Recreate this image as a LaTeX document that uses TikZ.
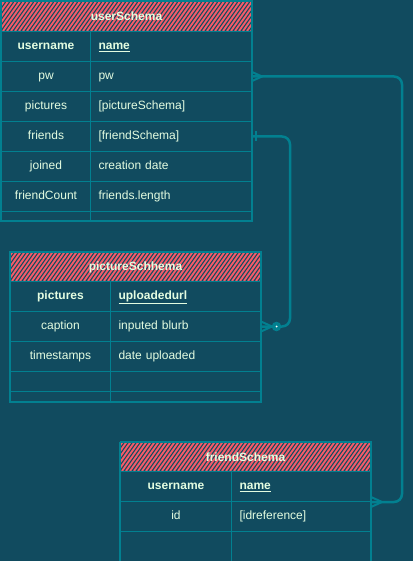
\documentclass[tikz,border=0pt]{standalone}
\usepackage{fontspec}
\setmainfont{Liberation Sans}
\definecolor{bg}{HTML}{114B5F}
\definecolor{ln}{HTML}{028090}
\definecolor{tx}{HTML}{E4FDE1}
\definecolor{ht}{HTML}{F45B69}
\tikzset{
  cellbase/.style={draw=ln, line width=1pt, anchor=north west, inner sep=0pt,
    minimum height=30pt, text height=9pt, text depth=2.5pt, text=tx,
    font=\fontsize{12}{14}\selectfont},
  keyc/.style={cellbase, align=center},
  valc/.style={cellbase, align=left, inner xsep=8pt},
  pk/.style={font=\fontsize{12}{14}\selectfont\bfseries},
  emptyc/.style={text height=0pt, text depth=0pt},
  headc/.style={draw=ln, line width=1pt, anchor=north west, inner sep=0pt,
    text=tx, font=\fontsize{12}{14}\selectfont\bfseries},
  hatchline/.style={draw=ht, line width=1.9pt},
  conn/.style={draw=ln, line width=2.5pt, rounded corners=8pt},
  foot/.style={draw=ln, line width=2pt, line join=miter},
  outline/.style={draw=ln, line width=1.5pt},
}
\newcommand{\hatchbox}[4]{%
  \begin{scope}
    \clip (#1,#2) rectangle (#3,#4);
    \foreach \k in {0,...,72} {
      \draw[hatchline] (#1-30+\k*4,#4) -- ++(22,-31);
    }
  \end{scope}}
\begin{document}
\begin{tikzpicture}[x=1pt, y=-1pt]
\fill[bg] (0,0) rectangle (413,561);
\useasboundingbox (0,0) rectangle (413,561);

% ---------------- userSchema ----------------
\hatchbox{1}{1}{251}{31}
\node[headc, minimum width=250pt, minimum height=30pt] (uhead) at (1,1) {userSchema};
\node[keyc, pk, minimum width=89pt] (uk1) at (1,31) {username};
\node[valc, pk, text width=145pt, minimum width=161pt] (uname) at (90,31) {\underline{name}};
\node[keyc, minimum width=89pt] (uk2) at (1,61) {pw};
\node[valc, text width=145pt] (upw) at (90,61) {pw};
\node[keyc, minimum width=89pt] (uk3) at (1,91) {pictures};
\node[valc, text width=145pt] (upic) at (90,91) {[pictureSchema]};
\node[keyc, minimum width=89pt] (uk4) at (1,121) {friends};
\node[valc, text width=145pt] (ufr) at (90,121) {[friendSchema]};
\node[keyc, minimum width=89pt] (uk5) at (1,151) {joined};
\node[valc, text width=145pt] (ujo) at (90,151) {creation date};
\node[keyc, minimum width=89pt] (uk6) at (1,181) {friendCount};
\node[valc, text width=145pt] (ufc) at (90,181) {friends.length};
\node[keyc, emptyc, minimum width=89pt, minimum height=9pt] (uk7) at (1,211) {};
\node[valc, emptyc, text width=145pt, minimum height=9pt] (uv7) at (90,211) {};
\draw[outline] (uhead.north west) rectangle (uv7.south east);

% ---------------- pictureSchhema ----------------
\hatchbox{10}{252}{260}{281}
\node[headc, minimum width=250pt, minimum height=29pt] (phead) at (10,252) {pictureSchhema};
\node[keyc, pk, minimum width=100pt] (pk1) at (10,281) {pictures};
\node[valc, pk, text width=134pt] (purl) at (110,281) {\underline{uploadedurl}};
\node[keyc, minimum width=100pt] (pk2) at (10,311) {caption};
\node[valc, text width=134pt] (pcap) at (110,311) {inputed blurb};
\node[keyc, minimum width=100pt] (pk3) at (10,341) {timestamps};
\node[valc, text width=134pt] (pts) at (110,341) {date uploaded};
\node[keyc, emptyc, minimum width=100pt, minimum height=20pt] (pk4) at (10,371) {};
\node[valc, emptyc, text width=134pt, minimum height=20pt] (pv4) at (110,371) {};
\node[keyc, emptyc, minimum width=100pt, minimum height=10pt] (pk5) at (10,391) {};
\node[valc, emptyc, text width=134pt, minimum height=10pt] (pv5) at (110,391) {};
\draw[outline] (phead.north west) rectangle (pv5.south east);

% ---------------- friendSchema ----------------
\hatchbox{120}{442}{370}{471}
\node[headc, minimum width=250pt, minimum height=29pt] (fhead) at (120,442) {friendSchema};
\node[keyc, pk, minimum width=111pt] (fk1) at (120,471) {username};
\node[valc, pk, text width=123pt] (fuser) at (231,471) {\underline{name}};
\node[keyc, minimum width=111pt] (fk2) at (120,501) {id};
\node[valc, text width=123pt] (fid) at (231,501) {[idreference]};
\node[keyc, emptyc, minimum width=111pt] (fk3) at (120,531) {};
\node[valc, emptyc, text width=123pt] (fv3) at (231,531) {};
\draw[outline] (fhead.north west) -- (fk3.south west);
\draw[outline] (fhead.north west) -- (fhead.north east) -- (fv3.south east);

% ---------------- connectors ----------------
\coordinate (xr1) at (402,0);
\coordinate (xr2) at (290,0);
\coordinate (fend) at (fuser.south east);

% userSchema.pw  ->  friendSchema
\draw[conn] (upw.east) -- (upw.east -| xr1) |- (fend);
\draw[foot] ([yshift=4.5pt]upw.east) -- ([xshift=10pt]upw.east) -- ([yshift=-4.5pt]upw.east);
\draw[foot] ([yshift=5pt]fend) -- ([xshift=11pt]fend) -- ([yshift=-5pt]fend);

% userSchema.friends  ->  pictureSchhema.caption
\draw[conn] (ufr.east) -- (ufr.east -| xr2) |- (pcap.east);
\draw[ln, line width=2pt] ([xshift=4pt,yshift=5pt]ufr.east) -- ([xshift=4pt,yshift=-5pt]ufr.east);
\draw[foot] ([yshift=5pt]pcap.east) -- ([xshift=11pt]pcap.east) -- ([yshift=-5pt]pcap.east);
\fill[ln] ([xshift=15.5pt]pcap.east) circle (4.8pt);
\fill[white] ([xshift=15.5pt]pcap.east) circle (1pt);
\end{tikzpicture}
\end{document}
